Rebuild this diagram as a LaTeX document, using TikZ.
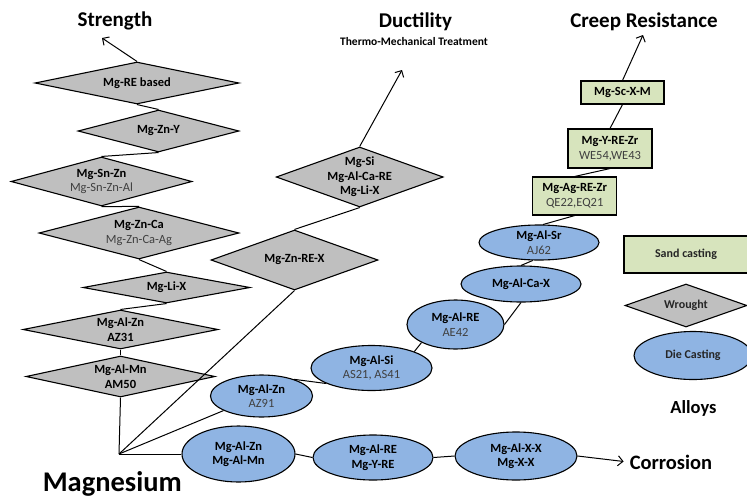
\documentclass[tikz,border=0pt]{standalone}
\usepackage{fontspec}
\setmainfont{Carlito}
\usetikzlibrary{shapes.geometric,arrows.meta}
\definecolor{diafill}{HTML}{BFBFBF}
\definecolor{ellfill}{HTML}{8FB4E3}
\definecolor{boxfill}{HTML}{D7E4BD}
\definecolor{subtext}{HTML}{404040}
\newcommand{\subline}[1]{{\mdseries\color{subtext}#1}}
\begin{document}
\begin{tikzpicture}[x=1pt,y=-1pt,
  shp/.style={draw=black, line width=1.1pt, inner sep=0pt},
  dia/.style={shp, shape=diamond, fill=diafill},
  ell/.style={shp, shape=ellipse, fill=ellfill},
  box/.style={shp, shape=rectangle, fill=boxfill},
  lbl/.style={align=center, inner sep=0pt, text=black, font=\fontsize{12.5}{14.5}\selectfont\bfseries},
  legend/.style={align=center, inner sep=0pt, text=black!85, font=\fontsize{12}{14}\selectfont\bfseries},
  conn/.style={draw=black, line width=1pt},
  arr/.style={conn, -{Straight Barb[length=5pt,width=10pt,line width=1pt]}},
  title/.style={inner sep=0pt, anchor=base, text=black, font=\fontsize{21}{24}\selectfont\bfseries}
]
\useasboundingbox (0,0) rectangle (747,501);
\clip (0,0) rectangle (747,501);

% ---- Strength column (wrought) ----
\node[dia, minimum width=204pt, minimum height=42pt, label={[lbl]center:{Mg-RE based}}] (re) at (137,83) {};
\node[dia, minimum width=161pt, minimum height=42pt, label={[lbl]center:{Mg-Zn-Y}}] (zny) at (158.5,131) {};
\node[dia, minimum width=181pt, minimum height=49pt, label={[lbl]center:{Mg-Sn-Zn\\\subline{Mg-Sn-Zn-Al}}}] (snzn) at (101.5,181.5) {};
\node[dia, minimum width=200pt, minimum height=52pt, label={[lbl]center:{Mg-Zn-Ca\\\subline{Mg-Zn-Ca-Ag}}}] (znca) at (139,233) {};
\node[dia, minimum width=167pt, minimum height=31pt, label={[lbl]center:{Mg-Li-X}}] (lix) at (166.5,287.5) {};
\node[dia, minimum width=195pt, minimum height=39pt, label={[lbl]center:{Mg-Al-Zn\\AZ31}}] (azn) at (120.5,329.5) {};
\node[dia, minimum width=189pt, minimum height=41pt, label={[lbl]center:{Mg-Al-Mn\\AM50}}] (amn) at (120.5,376.5) {};

% ---- Ductility column ----
\node[dia, minimum width=167pt, minimum height=60pt, label={[lbl]center:{Mg-Zn-RE-X}}] (znre) at (294.5,260) {};
\node[dia, minimum width=167pt, minimum height=60pt, label={[lbl]center:{Mg-Si\\Mg-Al-Ca-RE\\Mg-Li-X}}] (si) at (359.7,177) {};

% ---- Die casting chain ----
\node[ell, minimum width=102pt, minimum height=42pt, label={[lbl]center:{Mg-Al-Zn\\\subline{AZ91}}}] (az91) at (261.5,396) {};
\node[ell, minimum width=121pt, minimum height=45pt, label={[lbl]center:{Mg-Al-Si\\\subline{AS21, AS41}}}] (as) at (371.5,368) {};
\node[ell, minimum width=97pt, minimum height=49pt, label={[lbl]center:{Mg-Al-RE\\\subline{AE42}}}] (ae) at (455.5,324.5) {};
\node[ell, minimum width=120pt, minimum height=36pt, label={[lbl]center:{Mg-Al-Ca-X}}] (cax) at (521,284) {};
\node[ell, minimum width=120pt, minimum height=35pt, label={[lbl]center:{Mg-Al-Sr\\\subline{AJ62}}}] (sr) at (539,242.5) {};

% ---- Sand casting chain ----
\node[box, minimum width=84pt, minimum height=38pt, label={[lbl]center:{Mg-Ag-RE-Zr\\\subline{QE22,EQ21}}}] (agre) at (574.7,196) {};
\node[box, minimum width=84pt, minimum height=39pt, label={[lbl]center:{Mg-Y-RE-Zr\\\subline{WE54,WE43}}}] (yre) at (610,148.5) {};
\node[box, minimum width=83pt, minimum height=23pt, label={[lbl]center:{Mg-Sc-X-M}}] (sc) at (622.5,92.5) {};

% ---- Corrosion row ----
\node[ell, minimum width=113pt, minimum height=56pt, label={[lbl]center:{Mg-Al-Zn\\Mg-Al-Mn}}] (bzn) at (238.5,454) {};
\node[ell, minimum width=120pt, minimum height=45pt, label={[lbl]center:{Mg-Al-RE\\Mg-Y-RE}}] (bre) at (373,457.5) {};
\node[ell, minimum width=122pt, minimum height=48pt, label={[lbl]center:{Mg-Al-X-X\\Mg-X-X}}] (bxx) at (516,456) {};

% ---- Legend ----
\node[box, minimum width=124pt, minimum height=37pt, label={[legend]center:{Sand casting}}] (lsand) at (686,254.5) {};
\node[dia, minimum width=122pt, minimum height=43pt, label={[legend]center:{Wrought}}] (lwr) at (686,305.5) {};
\node[ell, minimum width=118pt, minimum height=48pt, label={[legend]center:{Die Casting}}] (ldie) at (693,355.5) {};

% ---- Titles ----
\node[title] (strength) at (115,26) {Strength};
\node[title] (ductility) at (415.5,27.5) {Ductility};
\node[inner sep=0pt, anchor=base, font=\fontsize{11.5}{13}\selectfont\bfseries] (tmt) at (414,45) {Thermo-Mechanical Treatment};
\node[title] (creep) at (644,27.5) {Creep Resistance};
\node[title, font=\fontsize{28.5}{32}\selectfont\bfseries] (magnesium) at (112.3,491.7) {Magnesium};
\node[title, font=\fontsize{18.5}{22}\selectfont\bfseries] (alloys) at (693.5,413.5) {Alloys};
\node[title, font=\fontsize{20.5}{24}\selectfont\bfseries] (corrosion) at (671,469.3) {Corrosion};

% ---- Coordinates ----
\coordinate (mg) at (119,454);
\coordinate (stip) at (102,38);
\coordinate (dtip) at (402,70);
\coordinate (ctip) at (643,35);

% ---- Connectors ----
\draw[arr] (re.north) -- (stip);
\draw[conn] (re.south) -- (zny.north);
\draw[conn] (zny.south) -- (snzn.north);
\draw[conn] (snzn.south) -- (znca.north);
\draw[conn] (znca.south) -- (lix.north);
\draw[conn] (lix.south) -- (azn.north);
\draw[conn] (azn.south) -- (amn.north);
\draw[conn] (amn.south) -- (mg);

\draw[conn] (mg) -- (znre.south);
\draw[conn] (znre.north) -- (si.south);
\draw[arr] (si.north) -- (dtip);

\draw[conn] (mg) -- (az91.201);
\draw[conn] (az91.27) -- (as.199);
\draw[conn] (as.21) -- (ae.208);
\draw[conn] (ae.east) -- (cax.south);
\draw[conn] (cax.north) -- (sr.251);
\draw[conn] (sr.77) -- (agre.south);
\draw[conn] (agre.north) -- (yre.south);
\draw[conn] (yre.north) -- (sc.south);
\draw[arr] (sc.north) -- (ctip);

\draw[conn] (mg) -- (bzn.west);
\draw[conn] (bzn.east) -- (bre.west);
\draw[conn] (bre.east) -- (bxx.west);
\draw[arr, shorten >=6pt] (bxx.east) -- (corrosion.west);
\end{tikzpicture}
\end{document}
